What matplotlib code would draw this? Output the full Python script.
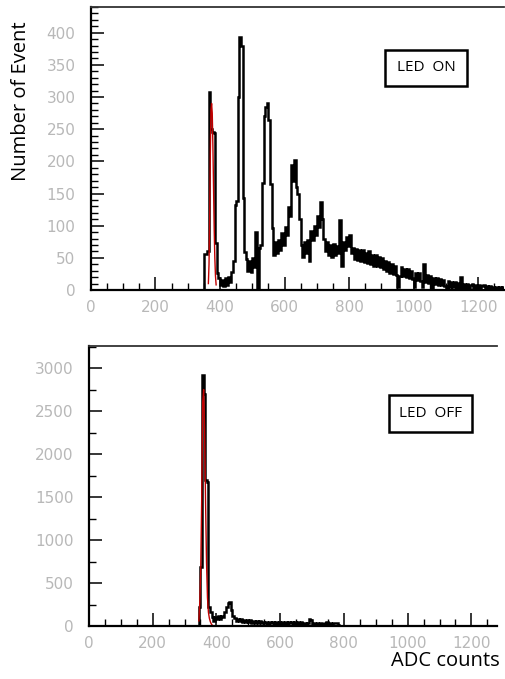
import matplotlib.pyplot as plt
import numpy as np
from matplotlib.patches import Rectangle
from matplotlib.ticker import MultipleLocator

# histogram data, bin width 5 ADC, first bin edge at 340
bin_start = 340
bin_width = 5

led_on_counts = [
    0, 0, 56, 56, 60, 308, 250, 246, 244, 73,
    26, 18, 8, 16, 6, 18, 8, 20, 12, 28,
    45, 132, 138, 300, 394, 380, 143, 59, 48, 30,
    45, 28, 50, 35, 90, 0, 65, 70, 167, 270,
    285, 291, 265, 165, 97, 55, 75, 58, 78, 62,
    88, 70, 98, 85, 129, 115, 195, 170, 202, 160,
    150, 110, 70, 52, 75, 58, 78, 45, 92, 78,
    100, 85, 115, 98, 137, 110, 80, 60, 75, 55,
    70, 52, 72, 55, 68, 58, 109, 37, 75, 62,
    82, 68, 85, 58, 65, 48, 64, 46, 62, 45,
    62, 44, 58, 42, 60, 40, 55, 38, 54, 37,
    52, 35, 50, 33, 45, 30, 44, 27, 40, 25,
    38, 24, 5, 22, 36, 21, 33, 20, 32, 19,
    30, 17, 4, 27, 15, 26, 14, 5, 41, 13,
    23, 11, 21, 3, 19, 9, 18, 8, 17, 7,
    15, 6, 2, 14, 5, 13, 4, 12, 3, 11,
    3, 20, 3, 10, 2, 9, 2, 8, 9, 2,
    7, 1, 7, 1, 6, 8, 1, 6, 1, 6,
    1, 5, 1, 5, 1, 4, 1, 4,
]

led_off_counts = [
    0, 220, 690, 2920, 2700, 1700, 1680, 220, 160, 100,
    60, 110, 80, 115, 85, 120, 100, 160, 220, 270,
    280, 190, 120, 90, 60, 85, 55, 80, 50, 75,
    45, 70, 42, 68, 40, 62, 38, 60, 35, 55,
    32, 52, 30, 50, 28, 48, 30, 50, 26, 46,
    28, 44, 25, 45, 26, 42, 24, 44, 30, 45,
    28, 48, 26, 44, 25, 42, 22, 36, 24, 35,
    80, 75, 22, 34, 25, 38, 22, 40, 15, 25,
    40, 45, 15, 35, 12, 30, 35, 30, 10, 0,
]

# red fit curves over the pedestal peak
fit_on_x = [364, 366, 368, 370, 372, 374, 376, 378, 380, 382, 384, 386, 388]
fit_on_y = [10, 40, 110, 210, 280, 290, 275, 225, 160, 95, 50, 22, 8]
fit_off_x = [345, 348, 351, 354, 357, 360, 363, 366, 369, 372, 375, 378, 381, 384, 387]
fit_off_y = [60, 280, 690, 1500, 2600, 2750, 2300, 1450, 750, 330, 160, 90, 50, 25, 10]

panels = [
    dict(counts=led_on_counts, fit_x=fit_on_x, fit_y=fit_on_y, label='LED  ON',
         rect=[0.180, 0.5729, 0.818, 0.4168], ylim=440, ymaj=50, ymin=10,
         box=(0.712, 0.721, 0.199, 0.127)),
    dict(counts=led_off_counts, fit_x=fit_off_x, fit_y=fit_off_y, label='LED  OFF',
         rect=[0.176, 0.078, 0.808, 0.4124], ylim=3256, ymaj=500, ymin=250,
         box=(0.735, 0.693, 0.203, 0.132)),
]

fig = plt.figure(figsize=(5.05, 6.79), dpi=100)

for p in panels:
    ax = fig.add_axes(p['rect'])
    counts = np.array(p['counts'])
    edges = bin_start + bin_width * np.arange(len(counts) + 1)
    ax.stairs(counts, edges, color='black', lw=1.8)
    ax.plot(p['fit_x'], p['fit_y'], color='#c00000', lw=1.0)

    ax.set_xlim(0, 1280)
    ax.set_ylim(0, p['ylim'])
    ax.xaxis.set_major_locator(MultipleLocator(200))
    ax.xaxis.set_minor_locator(MultipleLocator(50))
    ax.yaxis.set_major_locator(MultipleLocator(p['ymaj']))
    ax.yaxis.set_minor_locator(MultipleLocator(p['ymin']))
    ax.tick_params(which='both', direction='in', top=False, right=False,
                   colors='black', labelcolor='#b8b8b8', labelsize=11)
    ax.tick_params(which='major', length=9.5, width=1.1)
    ax.tick_params(which='minor', length=5, width=1.0)
    ax.tick_params(axis='y', pad=11)
    ax.tick_params(axis='x', pad=7)
    ax.spines['right'].set_visible(False)
    ax.spines['left'].set_linewidth(1.6)
    ax.spines['bottom'].set_linewidth(1.6)
    ax.spines['top'].set_linewidth(1.3)
    ax.spines['top'].set_color('#333333')

    bx, by, bw, bh = p['box']
    ax.add_patch(Rectangle((bx, by), bw, bh, transform=ax.transAxes,
                           fill=False, edgecolor='black', lw=1.8))
    ax.text(bx + bw / 2, by + bh / 2, p['label'], transform=ax.transAxes,
            ha='center', va='center', fontsize=11, family='Open Sans')

fig.text(21 / 505, 1 - 101 / 679, 'Number of Event', rotation=90,
         ha='center', va='center', fontsize=14.5, family='Open Sans')
fig.text(500 / 505, 1 - 661 / 679, 'ADC counts', ha='right', va='center',
         fontsize=14.5, family='Open Sans')

fig.savefig('out.png', dpi=100)
